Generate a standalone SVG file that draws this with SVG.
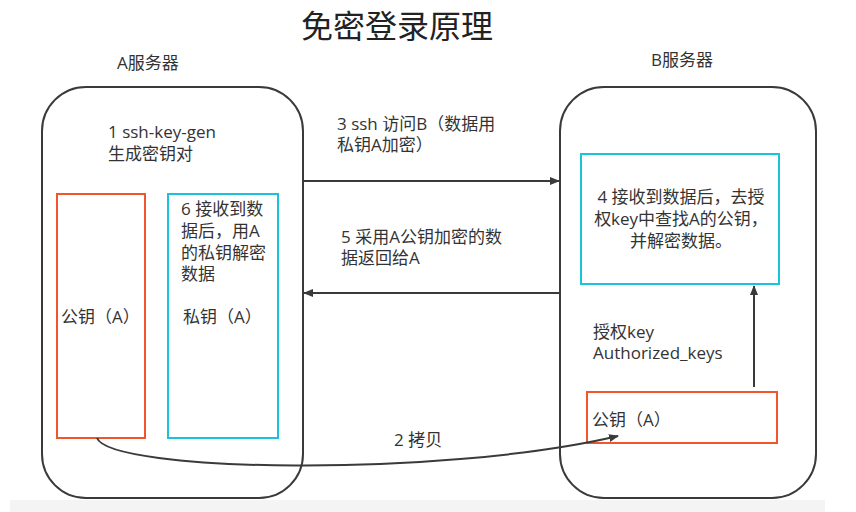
<svg xmlns="http://www.w3.org/2000/svg" width="856" height="512" viewBox="0 0 856 512">
<style>
text{font-family:"Open Sans","Noto Sans CJK SC",sans-serif;font-size:17px;fill:#333}
.title{font-size:32px;fill:#222}
.server{fill:none;stroke:#3a3a3a;stroke-width:2}
.red{fill:none;stroke:#f0552e;stroke-width:2}
.cyan{fill:none;stroke:#19c3dc;stroke-width:2}
.conn{fill:none;stroke:#3a3a3a;stroke-width:2}
</style>
<defs>
<marker id="arr" viewBox="0 0 10 10" refX="9" refY="5" markerWidth="5" markerHeight="5" orient="auto" markerUnits="strokeWidth">
<path d="M0,1 L10,5 L0,9 z" fill="#3a3a3a"/>
</marker>
</defs>
<rect x="10" y="500" width="815" height="12" fill="#f4f4f4"/>
<text class="title" x="397" y="38" text-anchor="middle">免密登录原理</text>
<g id="serverA">
<text x="117" y="69">A服务器</text>
<rect class="server" x="42" y="87" width="261" height="411" rx="44"/>
<text x="108" y="138">1 ssh-key-gen</text>
<text x="108" y="160">生成密钥对</text>
</g>
<g id="pubA">
<rect class="red" x="57" y="194" width="88" height="244"/>
<text x="61" y="323">公钥（A）</text>
</g>
<g id="privA">
<rect class="cyan" x="168" y="194" width="110" height="244"/>
<text x="181" y="215">6 接收到数</text>
<text x="181" y="237">据后，用A</text>
<text x="181" y="259">的私钥解密</text>
<text x="181" y="280">数据</text>
<text x="183" y="323">私钥（A）</text>
</g>
<g id="serverB">
<text x="651" y="66">B服务器</text>
<rect class="server" x="560" y="87" width="256" height="411" rx="44"/>
<text x="593" y="338">授权key</text>
<text x="593" y="359">Authorized_keys</text>
</g>
<g id="decryptB">
<rect class="cyan" x="581" y="154" width="198" height="130"/>
<text x="681" y="203" text-anchor="middle">4 接收到数据后，去授</text>
<text x="681" y="225" text-anchor="middle">权key中查找A的公钥，</text>
<text x="681" y="247" text-anchor="middle">并解密数据。</text>
</g>
<g id="pubB">
<rect class="red" x="587" y="392" width="190" height="51"/>
<text x="592" y="426">公钥（A）</text>
</g>
<g id="connectors">
<line class="conn" x1="303" y1="181" x2="559" y2="181" marker-end="url(#arr)"/>
<text x="337" y="130">3 ssh 访问B（数据用</text>
<text x="337" y="151">私钥A加密）</text>
<line class="conn" x1="560" y1="293" x2="304" y2="293" marker-end="url(#arr)"/>
<text x="341" y="243">5 采用A公钥加密的数</text>
<text x="341" y="264">据返回给A</text>
<line class="conn" x1="754" y1="387" x2="754" y2="286" marker-end="url(#arr)"/>
<path class="conn" d="M97,438 C110,472 440,478 618,436" marker-end="url(#arr)"/>
<text x="394" y="446">2 拷贝</text>
</g>
</svg>
